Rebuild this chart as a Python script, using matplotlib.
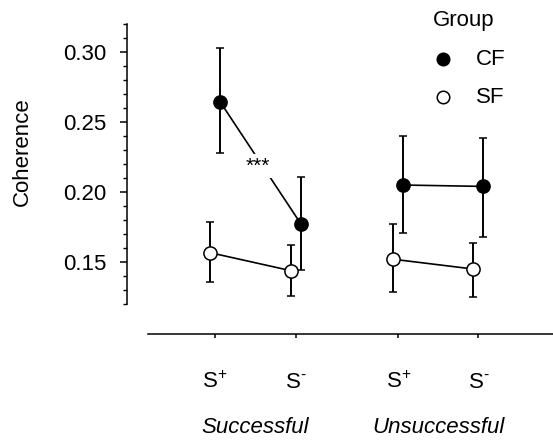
import matplotlib
matplotlib.use('Agg')
import matplotlib.pyplot as plt
from matplotlib.ticker import FixedLocator
from matplotlib.lines import Line2D
import numpy as np

plt.rcParams['font.family'] = ['Liberation Sans', 'DejaVu Sans']
plt.rcParams['mathtext.fontset'] = 'custom'
plt.rcParams['mathtext.rm'] = 'Liberation Sans'
plt.rcParams['mathtext.it'] = 'Liberation Sans:italic'

# data
conditions = ['S$^{+}$', 'S$^{\\text{-}}$', 'S$^{+}$', 'S$^{\\text{-}}$']
outcomes = ['Successful', 'Unsuccessful']
groups = ['CF', 'SF']
cf_mean = [0.2645, 0.177, 0.205, 0.204]
cf_low = [0.228, 0.144, 0.1705, 0.168]
cf_high = [0.303, 0.2105, 0.240, 0.2385]
sf_mean = [0.1567, 0.1438, 0.152, 0.145]
sf_low = [0.136, 0.126, 0.1284, 0.1248]
sf_high = [0.1788, 0.162, 0.177, 0.1638]

xpos = np.array([0, 1, 2.26, 3.25])
off = 0.062
fs = 16

fig = plt.figure(figsize=(5.53, 4.41), dpi=100)
ax = fig.add_axes([0.2297, 0.2426, 0.7703, 0.703])

def draw(x, mean, low, high, face):
    mean = np.array(mean)
    yerr = [mean - np.array(low), np.array(high) - mean]
    for seg in (slice(0, 2), slice(2, 4)):
        ax.errorbar(x[seg], mean[seg], yerr=[yerr[0][seg], yerr[1][seg]],
                    fmt='-', color='black', lw=1.2, elinewidth=1.4,
                    capsize=2.6, capthick=1.3, marker='o', ms=9.5,
                    mfc=face, mec='black', mew=1.1, zorder=3)

draw(xpos + off, cf_mean, cf_low, cf_high, 'black')
draw(xpos - off, sf_mean, sf_low, sf_high, 'white')

# significance stars, covering the line
ax.text(0.53, 0.2186, '***', ha='center', va='center', fontsize=15, zorder=4,
        bbox=dict(facecolor='white', edgecolor='none', pad=1.5))

ax.set_xlim(-1.086, 4.17)
ax.set_ylim(0.0986, 0.32)

for s in ['top', 'right']:
    ax.spines[s].set_visible(False)
ax.spines['left'].set_bounds(0.12, 0.32)
ax.spines['bottom'].set_bounds(-0.83, 4.17)
ax.spines['left'].set_linewidth(1.1)
ax.spines['bottom'].set_linewidth(1.1)

ax.set_yticks([0.15, 0.20, 0.25, 0.30])
ax.set_yticklabels(['0.15', '0.20', '0.25', '0.30'], fontsize=fs)
ax.yaxis.set_minor_locator(FixedLocator(np.arange(0.12, 0.3201, 0.01)))
ax.tick_params(axis='y', which='major', length=5, width=1.1, direction='out', pad=10)
ax.tick_params(axis='y', which='minor', length=3, width=1.0, direction='out')
ax.set_xticks(xpos)
ax.set_xticklabels(conditions, fontsize=fs)
ax.tick_params(axis='x', length=3, width=1.1, direction='out', pad=24)

ax.text(-0.246, 0.587, 'Coherence', transform=ax.transAxes, rotation=90,
        ha='center', va='center', fontsize=fs)

for i, name in enumerate(outcomes):
    xc = (xpos[2 * i] + xpos[2 * i + 1]) / 2
    ax.text(xc, -0.30, name, transform=ax.get_xaxis_transform(), ha='center', va='center',
            fontsize=fs, style='italic')

# legend drawn by hand
ax.text(0.718, 1.0097, 'Group', transform=ax.transAxes, ha='left', va='center', fontsize=fs)
faces = ['black', 'white']
for i, (name, face) in enumerate(zip(groups, faces)):
    yy = 0.887 - i * 0.1226
    ax.add_line(Line2D([0.742], [yy], transform=ax.transAxes, ls='none', marker='o', ms=9,
                       mfc=face, mec='black', mew=1.1, clip_on=False))
    ax.text(0.819, yy, name, transform=ax.transAxes, ha='left', va='center', fontsize=fs)

fig.savefig('out.png', dpi=100)
